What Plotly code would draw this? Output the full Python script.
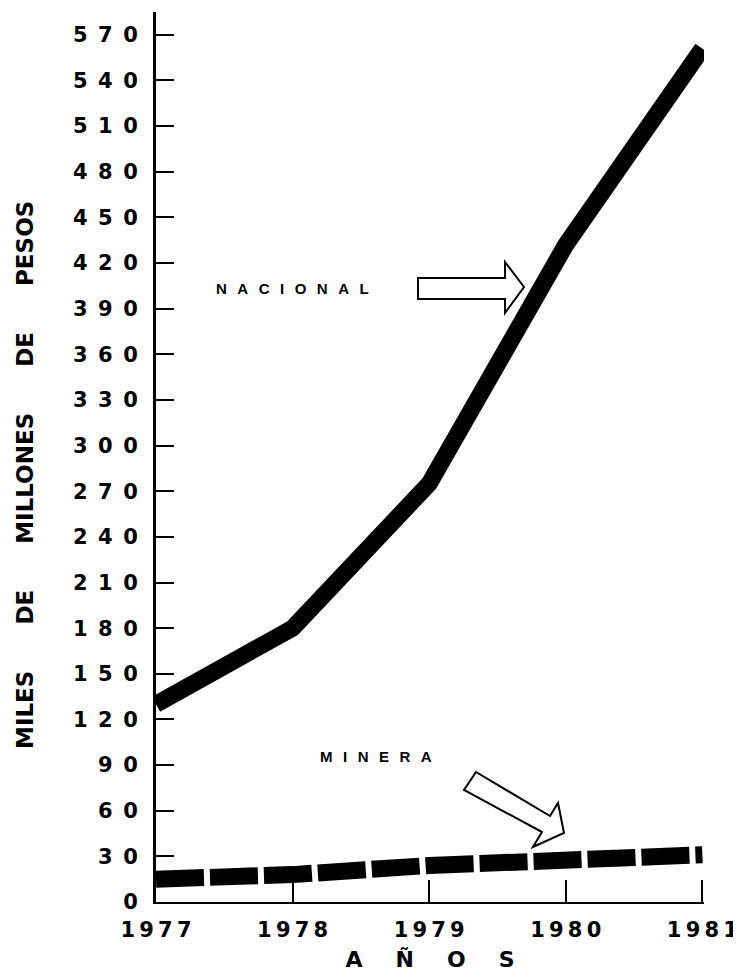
import plotly.graph_objects as go

years = [1977, 1978, 1979, 1980, 1981]
nacional = [130, 180, 275, 432, 561]
minera = [15, 18, 24, 27, 31]
y_ticks = list(range(0, 571, 30))
y_ticktext = ["\u2002".join(str(v)) for v in y_ticks]
x_ticktext = ["\u2009".join(str(v)) for v in years]

FONT = "DejaVu Sans"

# page body has an 8px margin: figure origin sits at (8, 8) of the window
OFF = 8
W, H = 741 - OFF, 980 - OFF
PL, PR, PT, PB = 156, 704, 12, 902  # plot area in window pixels
XMIN, XMAX = 1977, 1981.012
YMAX = 585

fig = go.Figure()
fig.add_trace(go.Scatter(x=years, y=nacional, mode="lines", name="NACIONAL",
                         line=dict(color="black", width=17)))
fig.add_trace(go.Scatter(x=years, y=minera, mode="lines", name="MINERA",
                         line=dict(color="black", width=17, dash="48px,6px")))

def px2d(px, py):
    return XMIN + (px - PL) / (PR - PL) * (XMAX - XMIN), (PB - py) / (PB - PT) * YMAX

def path(points):
    pts = [px2d(*p) for p in points]
    return "M " + " L ".join(f"{x:.4f},{y:.3f}" for x, y in pts) + " Z"

arrow_nac = [(418, 278), (505, 278), (505, 262), (524, 287), (505, 313), (505, 299), (418, 299)]
arrow_min = [(476, 772), (550, 816), (558, 803), (564, 833), (533, 847), (542, 832), (464, 790)]
for a in (arrow_nac, arrow_min):
    fig.add_shape(type="path", path=path(a), xref="x", yref="y",
                  line=dict(color="black", width=2), fillcolor="white", layer="above")

SP = "\u2002\u2009"
fig.add_annotation(x=px2d(292, 0)[0], y=px2d(0, 288)[1], xref="x", yref="y",
                   text=SP.join("NACIONAL"), showarrow=False,
                   font=dict(family="Liberation Sans", size=15, color="black", weight="bold"))
fig.add_annotation(x=px2d(376, 0)[0], y=px2d(0, 756)[1], xref="x", yref="y",
                   text=SP.join("MINERA"), showarrow=False,
                   font=dict(family="Liberation Sans", size=15, color="black", weight="bold"))

# y-axis title as rotated annotation
fig.add_annotation(x=(25 - PL) / (PR - PL), y=(PB - 475) / (PB - PT), xref="paper", yref="paper",
                   xanchor="center", yanchor="middle",
                   text="MILES\u2003\u2003DE\u2003\u2003MILLONES\u2003\u2003DE\u2003\u2003PESOS",
                   textangle=-90, showarrow=False,
                   font=dict(family=FONT, size=23, color="black", weight="bold"))

fig.update_layout(
    width=W, height=H,
    margin=dict(l=PL - OFF, r=W - (PR - OFF), t=PT - OFF, b=H - (PB - OFF), autoexpand=False),
    paper_bgcolor="white", plot_bgcolor="white",
    showlegend=False,
    font=dict(family=FONT, color="black"),
    xaxis=dict(range=[XMIN, XMAX], tickvals=years, ticktext=x_ticktext,
               ticks="inside", ticklen=22, tickwidth=2, tickcolor="black",
               showline=True, linewidth=2, linecolor="black", showgrid=False, zeroline=False,
               ticklabelstandoff=8, ticklabeloverflow="allow", automargin=False,
               tickfont=dict(family=FONT, size=21, color="black", weight="bold"),
               title=dict(text="A\u2003\u2002Ñ\u2003\u2002O\u2003\u2002S", standoff=10,
                          font=dict(family=FONT, size=22, color="black", weight="bold"))),
    yaxis=dict(range=[0, YMAX], tickvals=y_ticks, ticktext=y_ticktext,
               ticks="inside", ticklen=18, tickwidth=2, tickcolor="black",
               showline=True, linewidth=3, linecolor="black", showgrid=False, zeroline=False,
               ticklabelstandoff=11, automargin=False,
               tickfont=dict(family=FONT, size=21, color="black", weight="bold")),
)

fig.write_html("out.html")
